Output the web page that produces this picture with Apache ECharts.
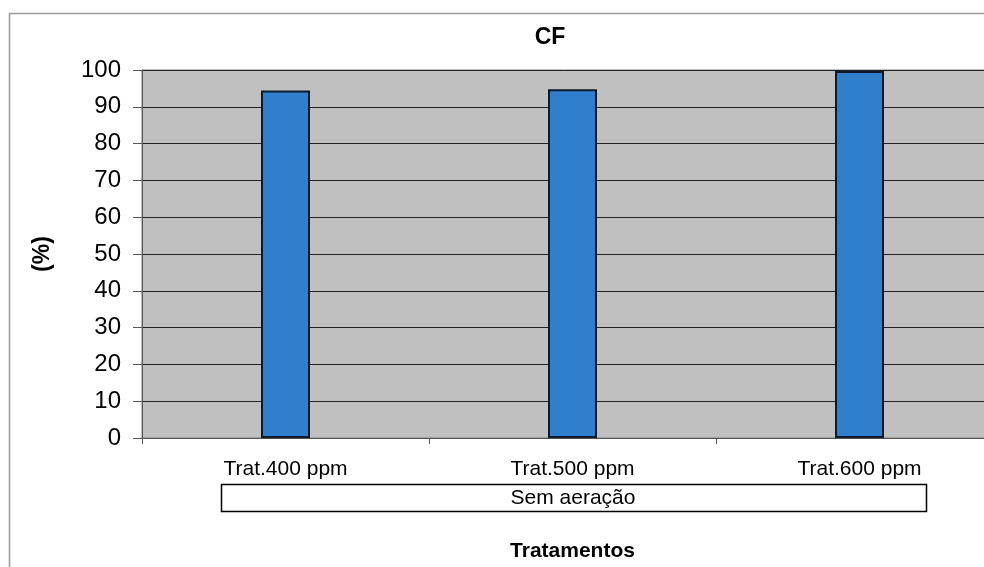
<!DOCTYPE html>
<html><head><meta charset="utf-8">
<script src="https://cdn.jsdelivr.net/npm/echarts@6/dist/echarts.min.js"></script>
<style>html,body{margin:0;padding:0;background:#fff}#c{width:984px;height:567px}</style>
</head><body><div id="c"></div>
<script>
const categories = ['Trat.400 ppm', 'Trat.500 ppm', 'Trat.600 ppm'];
const values = [94.4, 94.8, 99.7];
const groupLabel = 'Sem aeração';
const titleText = 'CF';
const yName = '(%)';
const xName = 'Tratamentos';

const chart = echarts.init(document.getElementById('c'));
chart.setOption({
  animation: false,
  backgroundColor: '#fff',
  title: { text: titleText, left: 545, top: 21, textAlign: 'center',
    textStyle: { fontFamily: 'Liberation Sans', fontWeight: 'bold', fontSize: 23, color: '#000' } },
  grid: { left: 142, top: 70, width: 861, bottom: 129, show: true, containLabel: false,
    outerBoundsMode: 'none',
    backgroundColor: '#c0c0c0', borderColor: '#808080', borderWidth: 1 },
  xAxis: {
    type: 'category', data: categories,
    axisLine: { lineStyle: { color: '#555', width: 1 } },
    axisTick: { show: true, alignWithLabel: false, length: 6, lineStyle: { color: '#555' } },
    axisLabel: { margin: 21, fontFamily: 'Liberation Sans', fontSize: 21, color: '#000' },
    name: xName, nameLocation: 'middle', nameGap: 103,
    nameTextStyle: { fontFamily: 'Liberation Sans', fontWeight: 'bold', fontSize: 21, color: '#000' }
  },
  yAxis: {
    type: 'value', min: 0, max: 100, interval: 10,
    axisLine: { show: true, lineStyle: { color: '#555', width: 1 } },
    axisTick: { show: true, length: 9, lineStyle: { color: '#555' } },
    splitLine: { lineStyle: { color: '#222', width: 1 } },
    axisLabel: { margin: 21, fontFamily: 'Liberation Sans', fontSize: 24, color: '#000' },
    name: yName, nameLocation: 'middle', nameGap: 88, nameRotate: 90,
    nameTextStyle: { fontFamily: 'Liberation Sans', fontWeight: 'bold', fontSize: 23, color: '#000' }
  },
  series: [{
    type: 'bar', data: values, barWidth: 49,
    itemStyle: { color: '#2f7fcc', borderColor: '#0a1a2a', borderWidth: 2 }
  }],
  graphic: [
    { type: 'rect', shape: { x: 9.5, y: 13.5, width: 1000, height: 600 }, silent: true, z: -10,
      style: { fill: 'none', stroke: '#999', lineWidth: 1.5 } },
    { type: 'rect', shape: { x: 221.5, y: 484.5, width: 705, height: 27 },
      style: { fill: '#fff', stroke: '#000', lineWidth: 1.5 } },
    { type: 'text', x: 573, y: 498, style: { text: groupLabel, textAlign: 'center', textVerticalAlign: 'middle',
      fontFamily: 'Liberation Sans', fontSize: 21, fill: '#000' } }
  ]
});
</script></body></html>
